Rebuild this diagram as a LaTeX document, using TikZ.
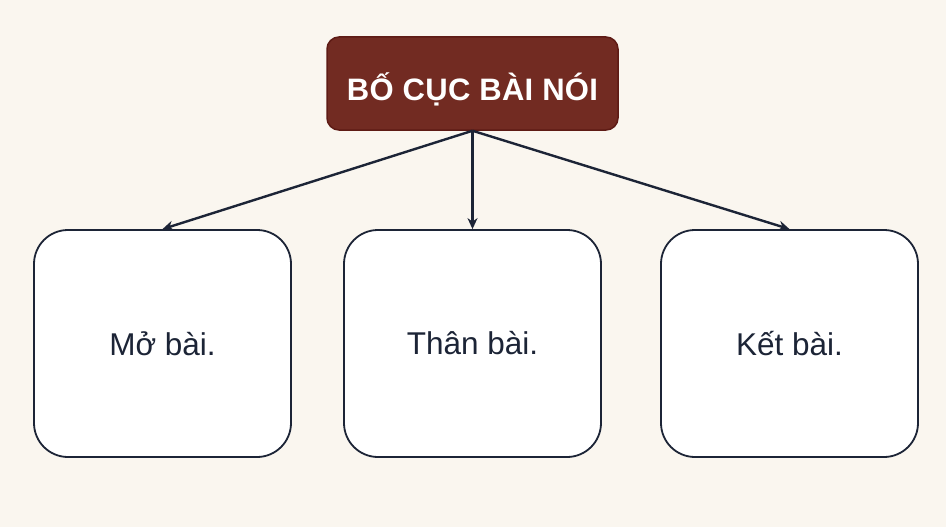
\documentclass[tikz,border=0pt]{standalone}
\usepackage{fontspec}
\setmainfont{Liberation Sans}
\usetikzlibrary{arrows.meta}
\definecolor{bg}{HTML}{FAF6EF}
\definecolor{titlefill}{HTML}{722B22}
\definecolor{titleborder}{HTML}{5E1B15}
\definecolor{ink}{HTML}{1C2436}
\tikzset{
  titlebox/.style={draw=titleborder, line width=1.5pt, fill=titlefill, rounded corners=12pt,
    minimum width=291pt, minimum height=93pt, inner sep=0pt},
  titletext/.style={text=white, inner sep=0pt,
    font=\fontsize{31}{37}\selectfont\bfseries\addfontfeatures{LetterSpace=1}},
  partbox/.style={draw=ink, line width=1.8pt, fill=white, rounded corners=34pt,
    minimum width=257pt, minimum height=227pt, inner sep=0pt, text=ink,
    font=\fontsize{31.5}{38}\selectfont},
  arr/.style={draw=ink, line width=2.4pt, -{Stealth[length=11pt,width=10pt]}}
}
\begin{document}
\begin{tikzpicture}[x=1pt,y=-1pt]
\fill[bg] (0,0) rectangle (946,527);
\useasboundingbox (0,0) rectangle (946,527);
\node[titlebox] (t) at (472.5,83.5) {};
\node[titletext] (tt) at (472.5,89) {BỐ CỤC BÀI NÓI};
\node[partbox] (a) at (162.5,343.5) {Mở bài.};
\node[partbox] (b) at (472.5,343.5) {Thân bài.};
\node[partbox] (c) at (789.5,343.5) {Kết bài.};
\draw[arr] (t.south) -- (a.north);
\draw[arr] (t.south) -- (b.north);
\draw[arr] (t.south) -- (c.north);
\end{tikzpicture}
\end{document}
